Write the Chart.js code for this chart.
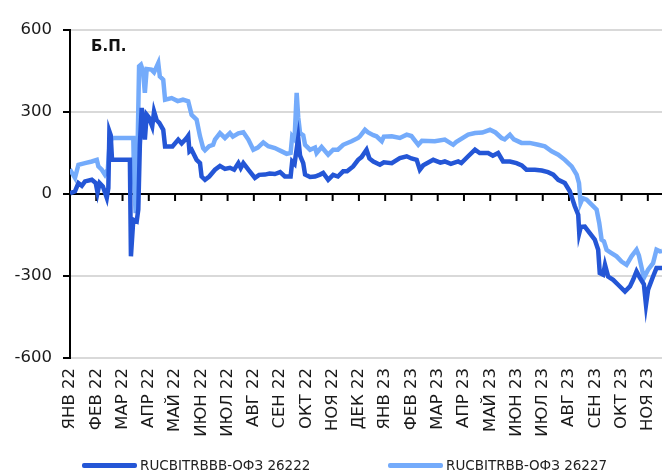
<!DOCTYPE html>
<html>
<head>
<meta charset="utf-8">
<script src="https://cdn.jsdelivr.net/npm/chart.js@4.4.1/dist/chart.umd.min.js"></script>
<style>
body { margin: 0; background: #fff; }
#cadre { position: relative; width: 662px; height: 475px; font-family: "DejaVu Sans", sans-serif; }
#unite { position: absolute; left: 91px; top: 37px; font-weight: bold; font-size: 15px; color: #111; }
.leg { position: absolute; top: 456px; height: 18px; display: flex; align-items: center; font-size: 13.5px; color: #222; white-space: nowrap; }
.leg i { display: inline-block; width: 55px; height: 5px; border-radius: 2px; margin-right: 3px; }
</style>
</head>
<body>
<div id="cadre">
  <canvas id="graph" width="662" height="475"></canvas>
  <div id="unite">Б.П.</div>
  <div class="leg" style="left:82px"><i style="background:#2456d6"></i>RUCBITRBBB-ОФЗ 26222</div>
  <div class="leg" style="left:388px"><i style="background:#74abfb"></i>RUCBITRBB-ОФЗ 26227</div>
</div>
<script>
// Libellés des mois (un tick par mois, 0 = début janvier 2022)
const moisLabels = ['ЯНВ 22', 'ФЕВ 22', 'МАР 22', 'АПР 22', 'МАЙ 22', 'ИЮН 22', 'ИЮЛ 22', 'АВГ 22',
    'СЕН 22', 'ОКТ 22', 'НОЯ 22', 'ДЕК 22', 'ЯНВ 23', 'ФЕВ 23', 'МАР 23', 'АПР 23', 'МАЙ 23',
    'ИЮН 23', 'ИЮЛ 23', 'АВГ 23', 'СЕН 23', 'ОКТ 23', 'НОЯ 23'];
const ticksY = [-600, -300, 0, 300, 600];

// Spread RUCBITRBBB - ОФЗ 26222, б.п. (temps en mois depuis janv. 2022)
const t26222 = [
    0.00, 0.04, 0.19, 0.32, 0.45, 0.57, 0.83, 0.98, 1.05, 1.13,
    1.25, 1.40, 1.46, 1.50, 1.55, 1.60, 2.28, 2.32, 2.41, 2.54,
    2.60, 2.66, 2.73, 2.80, 2.85, 2.92, 3.00, 3.13, 3.20, 3.30,
    3.40, 3.55, 3.62, 3.90, 4.12, 4.25, 4.44, 4.50, 4.55, 4.63,
    4.82, 4.95, 5.01, 5.14, 5.30, 5.52, 5.71, 5.90, 6.09, 6.25,
    6.41, 6.50, 6.60, 6.79, 7.04, 7.20, 7.42, 7.60, 7.80, 8.00,
    8.18, 8.40, 8.46, 8.55, 8.69, 8.76, 8.88, 8.95, 9.14, 9.33,
    9.52, 9.64, 9.83, 10.02, 10.20, 10.40, 10.55, 10.78, 10.97, 11.10,
    11.29, 11.40, 11.55, 11.80, 11.95, 12.25, 12.56, 12.82, 13.00, 13.20,
    13.32, 13.45, 13.83, 14.10, 14.27, 14.50, 14.78, 14.90, 15.16, 15.42,
    15.60, 15.92, 16.10, 16.30, 16.49, 16.75, 17.00, 17.20, 17.38, 17.70,
    17.96, 18.20, 18.40, 18.59, 18.84, 19.03, 19.22, 19.35, 19.39, 19.45,
    19.60, 19.79, 19.98, 20.11, 20.17, 20.30, 20.37, 20.49, 20.68, 20.87,
    21.13, 21.32, 21.44, 21.57, 21.70, 21.85, 21.93, 22.01, 22.20, 22.33,
    22.54
];
const v26222 = [
    2, 4, 10, 40, 30, 46, 52, 40, 5, 40,
    28, -14, 22, 229, 215, 125, 125, -228, -94, -100,
    -57, 180, 315, 260, 199, 290, 280, 247, 302, 270,
    260, 235, 174, 174, 199, 185, 205, 213, 156, 162,
    125, 113, 64, 52, 64, 89, 103, 92, 96, 89,
    113, 95, 113, 89, 59, 70, 71, 75, 73, 80,
    64, 64, 119, 110, 205, 140, 113, 71, 62, 64,
    71, 77, 52, 70, 64, 83, 83, 101, 125, 135,
    162, 130, 119, 107, 116, 113, 131, 138, 130, 125,
    89, 105, 125, 115, 119, 110, 119, 113, 138, 162,
    150, 150, 140, 150, 119, 119, 113, 105, 89, 89,
    86, 80, 71, 52, 40, 10, -45, -76, -143, -120,
    -119, -143, -167, -204, -289, -295, -259, -302, -314, -332,
    -357, -338, -314, -283, -307, -330, -405, -350, -302, -271,
    -271
];

// Spread RUCBITRBB - ОФЗ 26227, б.п.
const t26227 = [
    0.00, 0.04, 0.19, 0.32, 0.57, 0.83, 1.02, 1.08, 1.21, 1.33,
    1.44, 1.50, 1.59, 2.41, 2.44, 2.50, 2.55, 2.63, 2.70, 2.78,
    2.85, 2.92, 3.10, 3.20, 3.36, 3.42, 3.55, 3.62, 3.87, 4.10,
    4.30, 4.50, 4.63, 4.82, 4.95, 5.07, 5.14, 5.30, 5.45, 5.52,
    5.71, 5.90, 6.09, 6.20, 6.41, 6.60, 6.79, 6.98, 7.15, 7.36,
    7.55, 7.80, 8.06, 8.25, 8.40, 8.46, 8.55, 8.63, 8.69, 8.76,
    8.88, 8.95, 9.14, 9.33, 9.39, 9.58, 9.83, 10.02, 10.20, 10.40,
    10.72, 10.97, 11.04, 11.23, 11.35, 11.55, 11.67, 11.87, 11.95, 12.25,
    12.56, 12.82, 13.00, 13.26, 13.40, 13.89, 14.27, 14.59, 14.70, 15.16,
    15.42, 15.70, 15.99, 16.20, 16.43, 16.55, 16.75, 16.90, 17.19, 17.50,
    17.83, 18.08, 18.34, 18.59, 18.84, 19.10, 19.29, 19.38, 19.44, 19.52,
    19.67, 19.86, 20.05, 20.15, 20.24, 20.33, 20.43, 20.60, 20.81, 21.00,
    21.19, 21.38, 21.57, 21.66, 21.85, 22.01, 22.20, 22.33, 22.46, 22.54
];
const v26227 = [
    80, 83, 59, 107, 113, 119, 125, 101, 89, 71,
    90, 174, 205, 205, 52, -70, 40, 467, 473, 450,
    370, 457, 455, 445, 479, 430, 418, 345, 351, 340,
    345, 339, 290, 272, 211, 168, 160, 175, 180, 199,
    223, 205, 223, 210, 222, 226, 199, 162, 170, 189,
    175, 168, 156, 147, 150, 211, 200, 370, 280, 223,
    215, 180, 162, 170, 150, 172, 144, 162, 162, 180,
    193, 205, 211, 235, 225, 215, 211, 193, 210, 211,
    205, 217, 212, 180, 195, 193, 199, 180, 190, 217,
    223, 225, 235, 225, 205, 200, 217, 200, 187, 187,
    180, 174, 156, 144, 125, 101, 71, 40, -33, -15,
    -21, -39, -57, -106, -167, -173, -204, -215, -228, -247,
    -259, -228, -204, -225, -307, -277, -253, -204, -210, -208
];

// Petits tirets sous la ligne zéro, un par mois
const tiretsZero = {
    id: 'tiretsZero',
    beforeDatasetsDraw(chart) {
        const {ctx, scales: {x, y}} = chart;
        const y0 = y.getPixelForValue(0);
        ctx.save();
        ctx.strokeStyle = '#000';
        ctx.lineWidth = 2;
        for (let i = 1; i < moisLabels.length; i++) {
            const px = x.getPixelForValue(i);
            ctx.beginPath();
            ctx.moveTo(px, y0);
            ctx.lineTo(px, y0 + 7);
            ctx.stroke();
        }
        ctx.restore();
    }
};

Chart.defaults.font.family = '"DejaVu Sans", sans-serif';
Chart.defaults.color = '#1a1a1a';

const ctx = document.getElementById('graph').getContext('2d');
new Chart(ctx, {
    type: 'line',
    data: {
        datasets: [
            {
                label: 'RUCBITRBBB-ОФЗ 26222',
                data: t26222.map((t, i) => ({x: t, y: v26222[i]})),
                borderColor: '#2456d6',
                borderWidth: 4.5,
                pointRadius: 0,
                tension: 0,
                fill: false
            },
            {
                label: 'RUCBITRBB-ОФЗ 26227',
                data: t26227.map((t, i) => ({x: t, y: v26227[i]})),
                borderColor: '#74abfb',
                borderWidth: 4.5,
                pointRadius: 0,
                tension: 0,
                fill: false
            }
        ]
    },
    options: {
        responsive: false,
        animation: false,
        layout: {padding: {top: 30, left: 0, right: 0, bottom: 0}},
        plugins: {legend: {display: false}, tooltip: {enabled: false}},
        scales: {
            x: {
                type: 'linear',
                min: 0,
                max: 22.54,
                grid: {display: false, drawTicks: false},
                border: {display: false},
                afterBuildTicks: (s) => { s.ticks = moisLabels.map((_, i) => ({value: i})); },
                afterFit: (s) => { s.height = 117; s.paddingLeft = 0; s.paddingRight = 0; },
                ticks: {
                    autoSkip: false,
                    minRotation: 90,
                    maxRotation: 90,
                    padding: 10,
                    font: {size: 16.5},
                    color: '#1a1a1a',
                    callback: (v) => moisLabels[v]
                }
            },
            y: {
                min: -600,
                max: 600,
                afterBuildTicks: (s) => { s.ticks = ticksY.map(v => ({value: v})); },
                afterFit: (s) => { s.width = 70; },
                grid: {
                    color: (c) => c.tick && c.tick.value === 0 ? '#000' : '#d9d9d9',
                    lineWidth: 2,
                    tickColor: '#000',
                    tickLength: 7
                },
                border: {display: true, color: '#000', width: 2},
                ticks: {padding: 11, font: {size: 16.5}, color: '#1a1a1a'}
            }
        }
    },
    plugins: [tiretsZero]
});
</script>
</body>
</html>
